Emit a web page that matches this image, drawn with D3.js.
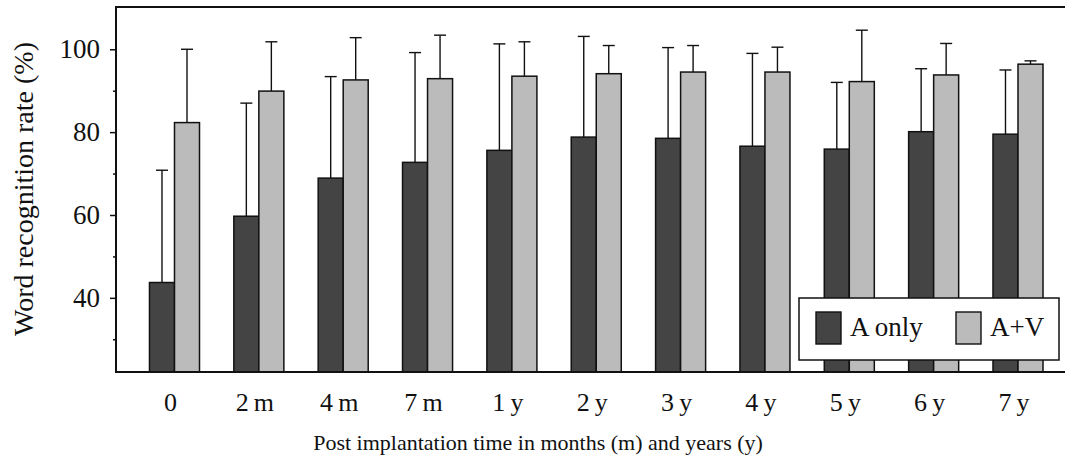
<!DOCTYPE html>
<html>
<head>
<meta charset="utf-8">
<script src="https://cdn.jsdelivr.net/npm/d3@7"></script>
<style>
  html, body { margin: 0; padding: 0; background: #fff; }
  svg { display: block; }
  text { font-family: "Liberation Serif", "Times New Roman", serif; fill: #111; }
</style>
</head>
<body>
<svg id="chart" width="1065" height="464"></svg>
<script>
// Word recognition over time after implantation, auditory only vs audio-visual
const categories = ["0", "2\u2009m", "4\u2009m", "7\u2009m", "1\u2009y", "2\u2009y", "3\u2009y", "4\u2009y", "5\u2009y", "6\u2009y", "7\u2009y"];
const seriesNames = ["A only", "A+V"];
const aOnlyMean = [43.7, 59.7, 68.9, 72.7, 75.6, 78.8, 78.5, 76.6, 75.9, 80.1, 79.5];
const aOnlySD   = [27.1, 27.3, 24.5, 26.5, 25.7, 24.3, 21.9, 22.4, 16.1, 15.2, 15.5];
const avMean    = [82.3, 89.9, 92.6, 92.9, 93.5, 94.1, 94.5, 94.5, 92.2, 93.8, 96.4];
const avSD      = [17.7, 11.9, 10.2, 10.5, 8.3, 6.8, 6.4, 6.0, 12.4, 7.6, 0.8];
const yMajorTicks = [40, 60, 80, 100];
const yMinorTicks = [30, 50, 70, 90];

const colors = ["#444444", "#bbbbbb"];
const serif = "'Liberation Serif', 'Times New Roman', serif";

const svg = d3.select("#chart");
const W = 1065;
const plotLeft = 116, plotTop = 7, plotBottom = 372;
const step = 84.35;
const innerPad = 0.407, outerPad = 0.397;
const plotRight = plotLeft + step * (categories.length - innerPad + 2 * outerPad);

const x = d3.scaleBand()
  .domain(categories)
  .range([plotLeft, plotRight])
  .paddingInner(innerPad)
  .paddingOuter(outerPad);

const xSub = d3.scaleBand()
  .domain(seriesNames)
  .range([0, x.bandwidth()]);

const y = d3.scaleLinear()
  .domain([22.1, 110.2])
  .range([plotBottom, plotTop]);

const rows = categories.map((c, i) => ({
  cat: c,
  vals: [
    { s: seriesNames[0], mean: aOnlyMean[i], sd: aOnlySD[i], color: colors[0] },
    { s: seriesNames[1], mean: avMean[i], sd: avSD[i], color: colors[1] }
  ]
}));

// error bars (upper half only), drawn behind the bars
const capW = 12;
const groups = svg.append("g").selectAll("g")
  .data(rows).join("g")
  .attr("transform", d => `translate(${x(d.cat)},0)`);

groups.selectAll("g.err")
  .data(d => d.vals).join("g")
  .attr("class", "err")
  .each(function(d) {
    const g = d3.select(this);
    const cx = xSub(d.s) + xSub.bandwidth() / 2;
    g.append("line")
      .attr("x1", cx).attr("x2", cx)
      .attr("y1", y(d.mean)).attr("y2", y(d.mean + d.sd))
      .attr("stroke", "#111").attr("stroke-width", 1.4);
    g.append("line")
      .attr("x1", cx - capW / 2).attr("x2", cx + capW / 2)
      .attr("y1", y(d.mean + d.sd)).attr("y2", y(d.mean + d.sd))
      .attr("stroke", "#111").attr("stroke-width", 1.4);
  });

groups.selectAll("rect")
  .data(d => d.vals).join("rect")
  .attr("x", d => xSub(d.s))
  .attr("width", xSub.bandwidth())
  .attr("y", d => y(d.mean))
  .attr("height", d => plotBottom - y(d.mean))
  .attr("fill", d => d.color)
  .attr("stroke", "#111")
  .attr("stroke-width", 1.5);

// frame: top and bottom rules run to the edge, plus the left axis
svg.append("line").attr("x1", plotLeft).attr("x2", W).attr("y1", plotTop).attr("y2", plotTop)
  .attr("stroke", "#111").attr("stroke-width", 2);
svg.append("line").attr("x1", plotLeft).attr("x2", W).attr("y1", plotBottom).attr("y2", plotBottom)
  .attr("stroke", "#111").attr("stroke-width", 2);

const yAxis = svg.append("g")
  .attr("transform", `translate(${plotLeft},0)`)
  .call(d3.axisLeft(y).tickValues(yMajorTicks).tickSize(6).tickPadding(10).tickFormat(d3.format("d")))
  .attr("font-family", serif)
  .attr("font-size", 27);
yAxis.select(".domain").remove();
yAxis.selectAll(".tick line").attr("stroke", "#111").attr("stroke-width", 1.5);
yAxis.selectAll(".tick text").attr("fill", "#111");

const yMinor = svg.append("g")
  .attr("transform", `translate(${plotLeft},0)`)
  .call(d3.axisLeft(y).tickValues(yMinorTicks).tickSize(3).tickFormat(""));
yMinor.select(".domain").remove();
yMinor.selectAll(".tick line").attr("stroke", "#111").attr("stroke-width", 1.5);

svg.append("line").attr("x1", plotLeft).attr("x2", plotLeft).attr("y1", plotTop - 1).attr("y2", plotBottom + 1)
  .attr("stroke", "#111").attr("stroke-width", 2);

// category labels
const xAxis = svg.append("g")
  .attr("transform", `translate(0,${plotBottom})`)
  .call(d3.axisBottom(x).tickSize(0).tickPadding(0))
  .attr("font-family", serif)
  .attr("font-size", 26);
xAxis.select(".domain").remove();
xAxis.selectAll(".tick text")
  .attr("y", 39).attr("dy", 0).attr("dx", -4)
  .attr("fill", "#111");

// axis titles
svg.append("text")
  .attr("x", 538).attr("y", 450)
  .attr("text-anchor", "middle")
  .style("font-size", "22px")
  .text("Post implantation time in months (m) and years (y)");

svg.append("text")
  .attr("transform", "translate(33,189) rotate(-90)")
  .attr("text-anchor", "middle")
  .style("font-size", "28px")
  .text("Word recognition rate (%)");

// legend
const lg = svg.append("g");
lg.append("rect")
  .attr("x", 799).attr("y", 298).attr("width", 260).attr("height", 62)
  .attr("fill", "#fff").attr("stroke", "#111").attr("stroke-width", 1.5);
const legendItems = [
  { name: seriesNames[0], color: colors[0], x: 816 },
  { name: seriesNames[1], color: colors[1], x: 956 }
];
const li = lg.selectAll("g.item").data(legendItems).join("g").attr("class", "item")
  .attr("transform", d => `translate(${d.x},312)`);
li.append("rect").attr("width", 25).attr("height", 32)
  .attr("fill", d => d.color).attr("stroke", "#111").attr("stroke-width", 1.4);
li.append("text").attr("x", 34).attr("y", 24)
  .style("font-size", "27px").text(d => d.name);
</script>
</body>
</html>
